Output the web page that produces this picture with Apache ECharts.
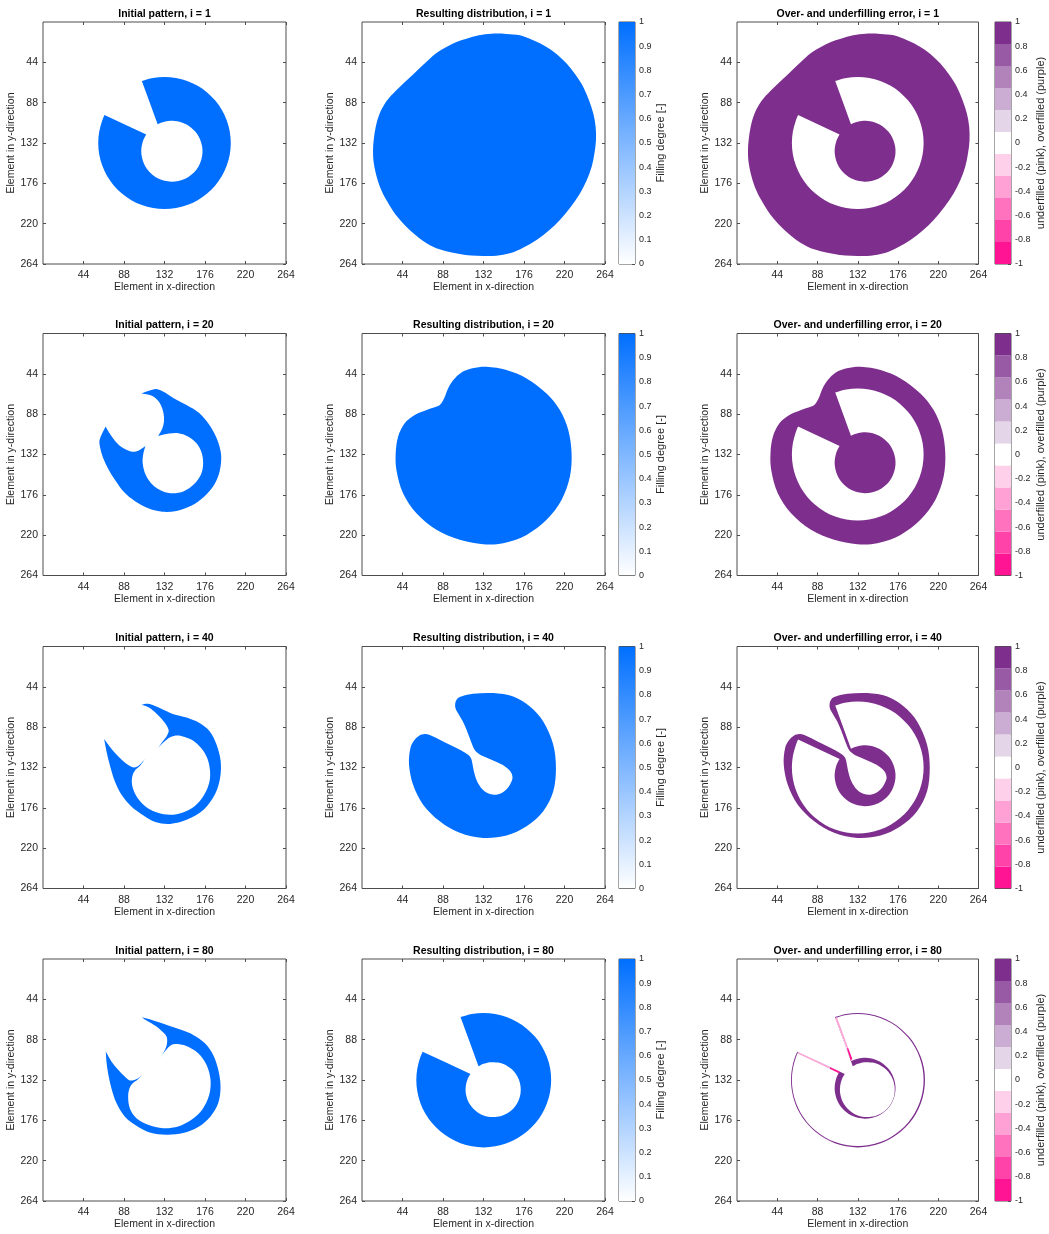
<!DOCTYPE html>
<html>
<head>
<meta charset="utf-8">
<script src="https://cdn.jsdelivr.net/npm/echarts@6/dist/echarts.min.js"></script>
<style>
  html, body { margin: 0; padding: 0; background: #ffffff; }
  #chart { width: 1049px; height: 1234px; }
</style>
</head>
<body>
<div id="chart"></div>
<script>
// ---- data -------------------------------------------------------------
const iterations = [1, 20, 40, 80];
const elementTicks = [44, 88, 132, 176, 220, 264];
const fillTicks = [0, 0.1, 0.2, 0.3, 0.4, 0.5, 0.6, 0.7, 0.8, 0.9, 1];
const errorTicks = [-1, -0.8, -0.6, -0.4, -0.2, 0, 0.2, 0.4, 0.6, 0.8, 1];

// filling degree colormap (0 -> 1) and the 11-step error colormap (-1 -> 1)
const fillColors = ['#ffffff', '#006fff'];
const errorColors = ['#ff1493', '#ff43a9', '#ff72be', '#ffa1d4', '#ffd0e9', '#ffffff',
                     '#e5d5e8', '#cbacd2', '#b282bb', '#9859a5', '#7e2f8e'];

// ring shaped regions: [angle (deg), inner radius, outer radius] around ringCenter
const ringCenter = [132, 132];
const targetRing = [
  [250, 21.8, 72], [260, 22.4, 72], [270, 23.3, 72], [280, 24.4, 72], [290, 25.8, 72],
  [300, 27.4, 72], [310, 29.3, 72], [320, 31.3, 72], [330, 33.5, 72], [340, 35.8, 72],
  [350, 38.0, 72], [360, 40.0, 72], [370, 41.9, 72], [380, 43.4, 72], [390, 44.5, 72],
  [400, 45.2, 72], [410, 45.3, 72], [420, 45.0, 72], [430, 44.2, 72], [440, 42.9, 72],
  [450, 41.3, 72], [460, 39.4, 72], [470, 37.2, 72], [480, 35.0, 72], [490, 32.8, 72],
  [500, 30.6, 72], [510, 28.6, 72], [520, 26.9, 72], [530, 25.3, 72], [540, 24.0, 72],
  [550, 23.0, 72], [560, 22.2, 72], [565, 21.9, 72]
];
const result80Ring = [
  [250, 15.9, 73.0], [260, 16.6, 73.0], [270, 17.6, 73.0], [280, 18.9, 73.0], [290, 20.5, 73.0],
  [300, 22.5, 73.0], [310, 24.8, 73.1], [320, 27.4, 73.2], [330, 30.2, 73.3], [340, 33.1, 73.4],
  [350, 35.9, 73.5], [360, 38.6, 73.5], [370, 40.9, 73.5], [380, 42.8, 73.5], [390, 44.1, 73.5],
  [400, 44.8, 73.5], [410, 44.8, 73.5], [420, 44.1, 73.5], [430, 42.8, 73.5], [440, 40.9, 73.5],
  [450, 38.6, 73.5], [460, 35.9, 73.4], [470, 33.1, 73.3], [480, 30.2, 73.2], [490, 27.4, 73.1],
  [500, 24.8, 73.0], [510, 22.5, 73.0], [520, 20.5, 73.0], [530, 18.9, 73.0], [540, 17.6, 73.0],
  [550, 16.6, 73.0], [560, 15.9, 73.0], [565, 15.6, 73.0]
];

// free-form outlines: [x, y] element positions, a third entry 1 marks a sharp vertex
const initial20 = [
  [107, 65.4, 1],
  [115, 62.5], [123, 60.5], [132, 64], [142, 70.5], [156, 78], [170, 87], [181, 100], [189, 115],
  [193.5, 132], [192, 150], [186, 165], [175, 178], [161, 188], [145, 193.5], [130, 194.5],
  [115, 191], [100, 183], [88, 173], [79, 161], [71, 148], [65, 135], [62, 124], [61.5, 116],
  [68, 101.5, 1],
  [73, 110], [79, 118], [87, 125], [97, 129], [104, 127.5],
  [111.3, 122.7, 1],
  [109, 131], [108.3, 141.5], [111.5, 154], [119, 165], [130, 172], [141, 174.3], [153, 172],
  [164, 164.5], [171.5, 154], [174, 142], [172, 129], [166, 119], [157, 112], [147, 108.8], [137, 109.2],
  [125.1, 111.8, 1],
  [129.5, 104], [131.5, 95], [130.5, 85], [127, 76], [121, 69.5], [114, 66.5]
];
const initial40 = [
  [107, 63.5, 1],
  [114, 62.5], [121, 64.5], [128, 67.5], [141, 73.5], [156, 77.5], [170, 83.5], [181, 92.5],
  [188.5, 107], [193, 125], [192.5, 143], [187, 161], [174.5, 178], [156, 189], [138, 193.5],
  [122, 191.5], [108.8, 184], [96, 174.5], [85.5, 162], [78, 147], [72.5, 129], [69, 114.5],
  [66.4, 101, 1],
  [72, 108.5], [78, 116], [85.5, 123.5], [93, 129.5], [99, 132], [104.5, 129.5],
  [111, 122.5, 1],
  [105.5, 130], [100.5, 134.5], [97.5, 140], [96.5, 148], [98.5, 157], [104, 167], [112, 175],
  [124, 181], [138, 183.5], [152, 181], [165, 174], [175, 162], [180.5, 149], [181.5, 136],
  [178.5, 122], [172, 111], [162, 102], [150, 97.5], [142, 97.5], [137, 99.5], [131, 104.5],
  [125, 110.7, 1],
  [130, 103.5], [134.5, 97.5], [136.5, 91], [131, 81.5], [121.5, 71.5], [114, 66]
];
const initial80 = [
  [107, 63.5, 1],
  [116, 65.7], [126.9, 69.4], [137.8, 73], [152.3, 78.1], [163.2, 82.8], [175.9, 91.9],
  [184.9, 104.6], [190.4, 120.9], [192.9, 139.1], [190.4, 157.2], [182, 171.7], [168.6, 183.4],
  [152.3, 189.9], [134.2, 191.7], [116, 189.2], [101.5, 181.9], [88.8, 171.7], [79.8, 157.2],
  [74.3, 140.9], [70.7, 124.5], [68.9, 111.8],
  [68.2, 100.9, 1],
  [74.3, 111.8], [81.6, 120.9], [88.8, 128.2], [94.3, 132.5], [100.5, 131.5], [106, 127.8],
  [109.9, 123.8, 1],
  [103, 131.5], [97.5, 135.5], [94, 141], [92.5, 150], [94.3, 162.7], [101.5, 173.6],
  [114.2, 180.8], [130.5, 184.5], [146.8, 182.6], [161.3, 175.4], [173.3, 163.8], [180.6, 148.2],
  [182, 131.8], [177.7, 115.5], [168.6, 102.8], [155.9, 94.8], [143.2, 92.6], [137.8, 94.8], [132.3, 100.9],
  [125.1, 110, 1],
  [130.5, 102.8], [134.5, 93.5], [134.2, 84.6], [126.9, 76.6], [117.8, 70.1], [110.6, 65.9]
];
const result1 = [
  [127, 14.5], [140.7, 12.7], [157, 13], [171.5, 14.5], [186, 20], [200.5, 27.2], [212, 35.5],
  [222.3, 45.4], [232, 57.5], [240.4, 70.8], [246.5, 85], [251.3, 99.9], [253.8, 114], [254.2, 128.9],
  [252.5, 143.5], [249.5, 158], [244, 173], [236.8, 187], [226.5, 202], [215, 216], [203, 227.5],
  [189.6, 237.8], [175.5, 246], [160.6, 252.4], [146, 255], [131.6, 255.3], [118.5, 254.8],
  [106.2, 253.1], [91.5, 250], [77.2, 245.1], [62, 235.5], [48.2, 223.3], [36, 209.5], [26.5, 194.3],
  [19.5, 180], [15, 165.2], [12.5, 152], [12, 139.8], [12.7, 128.9], [15, 114], [19.2, 99.9],
  [26.5, 86.5], [37.3, 74.4], [55.5, 57.2], [73.6, 40], [82, 33], [91.7, 27.2], [102, 22], [113.5, 18.2]
];
const result20 = [
  [120, 38], [135.2, 36.3], [157, 39.9], [178.8, 49], [200.5, 65.4], [215, 83.5], [224.1, 105.3],
  [227.7, 130.7], [225.9, 156.1], [216.8, 181.6], [200.5, 203.3], [178.8, 219.7], [153.4, 228.8],
  [131.6, 229.8], [106.2, 225.1], [80.9, 214.2], [59.1, 196.1], [44.6, 174.3], [37.4, 148.9],
  [36.6, 130.7], [39.2, 112.6], [46.4, 98], [57.3, 89], [70, 83.5], [79, 80.5], [84.5, 78],
  [89.5, 70], [93.5, 60], [99, 51], [108, 42.5]
];
const result40 = [
  [107.9, 54.5], [120.7, 51.6], [142.5, 50.8], [164.3, 54.5], [182.4, 65.4], [196.9, 81.7],
  [207.8, 107.1], [210.7, 132.5], [207.8, 158], [196.9, 179.7], [178.8, 196.1], [157, 206.2],
  [131.6, 208.8], [106.2, 203.3], [84.5, 190.6], [66.4, 172.5], [55.5, 150.7], [51.1, 128.9],
  [52.6, 110.7], [57, 102], [62.5, 97], [68, 95.5], [73.6, 96.5], [88.1, 103.5], [102.6, 110.7],
  [112, 116], [118, 121], [120, 128], [121.5, 136.2], [125, 147], [131, 156], [139, 161],
  [147, 161.5], [155, 157.5], [160.5, 151], [163.5, 143.5], [161.5, 136.5], [155, 130.5],
  [145, 125.5], [135, 121], [127.5, 117.5], [122.5, 113], [118.5, 104], [114, 92], [109.5, 81.5],
  [104.5, 73], [101.5, 67], [101.5, 61], [104, 56.5]
];
// underfilled slivers along the cut edges after 80 iterations: [error value, outline]
const underfill80 = [
  [-0.3, [[107.4, 64.3], [109.3, 63.9], [121.6, 97.2], [120.1, 97.6]]],
  [-0.9, [[120.1, 97.6], [121.6, 97.2], [125.9, 108.6], [124.5, 111.5]]],
  [-0.3, [[66.8, 101.6], [101.8, 118.1], [101.4, 119.8], [66.4, 103.2]]],
  [-0.9, [[101.8, 118.1], [112.2, 122.7], [111.4, 124.6], [101.4, 119.8]]]
];

// ---- geometry helpers -------------------------------------------------
function polar(deg, r) {
  const a = deg * Math.PI / 180;
  return [ringCenter[0] + r * Math.cos(a), ringCenter[1] + r * Math.sin(a)];
}
// closed outline of a cut ring: outer arc, cut edge, inner arc back, cut edge
function ringOutline(profile) {
  const o = profile.map(row => polar(row[0], row[2]));
  const i = profile.map(row => polar(row[0], row[1])).reverse();
  return [o[0], ...o, o[o.length - 1], i[0], ...i, i[i.length - 1]];
}
// repeating a vertex keeps the smoothed outline sharp there
function freeOutline(points) {
  const out = [];
  points.forEach(p => { out.push([p[0], p[1]]); if (p[2]) out.push([p[0], p[1]]); });
  return out;
}
function errorColor(v) {
  const n = errorColors.length;
  const k = Math.min(n - 1, Math.max(0, Math.floor((v - errorTicks[0]) / (errorTicks[errorTicks.length - 1] - errorTicks[0]) * n)));
  return errorColors[k];
}

const target = ringOutline(targetRing);
const initialShapes = [target, freeOutline(initial20), freeOutline(initial40), freeOutline(initial80)];
const resultShapes = [freeOutline(result1), freeOutline(result20), freeOutline(result40), ringOutline(result80Ring)];

// ---- layout -----------------------------------------------------------
const font = "'Liberation Sans', Arial, Helvetica, sans-serif";
const lineColor = '#4d4d4d';
const textColor = '#262626';
const colLeft = [43, 362, 737];
const colWidth = [243, 243, 241.5];
const rowTop = [22, 333.5, 646.5, 959];
const plotHeight = 242;
const barLeft = [0, 619, 995];
const barWidth = 16;
const yNameGap = [21.5, 21.5, 20];

const grids = [], xAxes = [], yAxes = [], seriesList = [], titles = [];

function elementAxis(isX, gi, position, labelled, col) {
  const ax = {
    gridIndex: gi, type: 'value', position,
    min: 0, max: elementTicks[elementTicks.length - 1],
    inverse: !isX,
    axisLine: { show: false, onZero: false },
    splitLine: { show: false },
    axisTick: { show: true, inside: true, length: 3, customValues: elementTicks,
                lineStyle: { color: lineColor, width: 1 } },
    axisLabel: { show: labelled, customValues: elementTicks, fontSize: 10.5, color: textColor,
                 fontFamily: font, margin: isX ? 6 : 5 }
  };
  if (labelled) {
    ax.name = isX ? 'Element in x-direction' : 'Element in y-direction';
    ax.nameLocation = 'middle';
    ax.nameGap = isX ? 17 : yNameGap[col];
    if (!isX) ax.nameRotate = 90;
    ax.nameTextStyle = { fontSize: 10.5, color: textColor, fontFamily: font };
  }
  return ax;
}

function addPlot(row, col, text, layers) {
  const gi = grids.length;
  grids.push({ left: colLeft[col], top: rowTop[row], width: colWidth[col], height: plotHeight,
               show: true, borderColor: lineColor, borderWidth: 1, backgroundColor: '#ffffff' });
  const xi = xAxes.length, yi = yAxes.length;
  xAxes.push(elementAxis(true, gi, 'bottom', true, col));
  xAxes.push(elementAxis(true, gi, 'top', false, col));
  yAxes.push(elementAxis(false, gi, 'left', true, col));
  yAxes.push(elementAxis(false, gi, 'right', false, col));
  titles.push({
    text, left: colLeft[col] + colWidth[col] / 2, top: rowTop[row] - 13.5, textAlign: 'center', padding: 0,
    textStyle: { fontSize: 10.5, fontWeight: 'bold', color: '#000000', fontFamily: font }
  });
  seriesList.push({
    type: 'custom', coordinateSystem: 'cartesian2d', xAxisIndex: xi, yAxisIndex: yi,
    clip: true, silent: true, animation: false,
    data: layers.map(l => [l.points[0][0], l.points[0][1]]),
    renderItem(params, api) {
      const l = layers[params.dataIndex];
      return {
        type: 'polygon',
        shape: { points: l.points.map(p => api.coord(p)), smooth: l.smooth },
        style: { fill: l.color }
      };
    }
  });
}

function addColorbar(row, col, ticks, name, nameGap, bands) {
  const gi = grids.length;
  grids.push({ left: barLeft[col], top: rowTop[row], width: barWidth, height: plotHeight,
               show: true, borderColor: lineColor, borderWidth: 1, backgroundColor: '#ffffff' });
  const xi = xAxes.length, yi = yAxes.length;
  xAxes.push({ gridIndex: gi, type: 'value', min: 0, max: 1, show: false });
  yAxes.push({
    gridIndex: gi, type: 'value', position: 'right',
    min: ticks[0], max: ticks[ticks.length - 1],
    name, nameLocation: 'middle', nameRotate: 90, nameGap,
    nameTextStyle: { fontSize: 11, color: textColor, fontFamily: font },
    axisLine: { show: false, onZero: false },
    splitLine: { show: false },
    axisTick: { show: true, inside: true, length: 3, customValues: ticks, lineStyle: { color: lineColor } },
    axisLabel: { customValues: ticks, fontSize: 9, color: textColor, fontFamily: font, margin: 4,
                 formatter: v => String(+(+v).toFixed(2)) }
  });
  seriesList.push({
    type: 'custom', coordinateSystem: 'cartesian2d', xAxisIndex: xi, yAxisIndex: yi,
    silent: true, animation: false, clip: true,
    data: bands.map(b => [0, b.from, b.to]),
    renderItem(params, api) {
      const b = bands[params.dataIndex];
      const p0 = api.coord([0, api.value(2)]);
      const p1 = api.coord([1, api.value(1)]);
      return {
        type: 'rect',
        shape: { x: p0[0], y: p0[1], width: p1[0] - p0[0], height: p1[1] - p0[1] },
        style: { fill: b.fill }
      };
    }
  });
}

const fillBand = [{
  from: fillTicks[0], to: fillTicks[fillTicks.length - 1],
  fill: new echarts.graphic.LinearGradient(0, 0, 0, 1, [
    { offset: 0, color: fillColors[1] }, { offset: 1, color: fillColors[0] }
  ])
}];
const errorSpan = errorTicks[errorTicks.length - 1] - errorTicks[0];
const errorBands = errorColors.map((c, i) => ({
  from: errorTicks[0] + errorSpan * i / errorColors.length,
  to: errorTicks[0] + errorSpan * (i + 1) / errorColors.length,
  fill: c
}));

iterations.forEach((it, row) => {
  const blue = fillColors[1];
  addPlot(row, 0, 'Initial pattern, i = ' + it,
          [{ points: initialShapes[row], color: blue, smooth: 0.33 }]);
  addPlot(row, 1, 'Resulting distribution, i = ' + it,
          [{ points: resultShapes[row], color: blue, smooth: 0.33 }]);
  addColorbar(row, 1, fillTicks, 'Filling degree [-]', 20, fillBand);

  // error map: over-filled area of the result, the target region itself, then under-filled parts
  const layers = [
    { points: resultShapes[row], color: errorColor(1), smooth: 0.33 },
    { points: target, color: errorColor(0), smooth: 0.33 }
  ];
  if (it === 80) {
    underfill80.forEach(([v, pts]) => layers.push({ points: pts, color: errorColor(v), smooth: 0 }));
  }
  addPlot(row, 2, 'Over- and underfilling error, i = ' + it, layers);
  addColorbar(row, 2, errorTicks, 'underfilled (pink), overfilled (purple)', 24, errorBands);
});

const chart = echarts.init(document.getElementById('chart'), null, { renderer: 'canvas' });
chart.setOption({
  animation: false,
  backgroundColor: '#ffffff',
  title: titles,
  grid: grids,
  xAxis: xAxes,
  yAxis: yAxes,
  series: seriesList
});
</script>
</body>
</html>
